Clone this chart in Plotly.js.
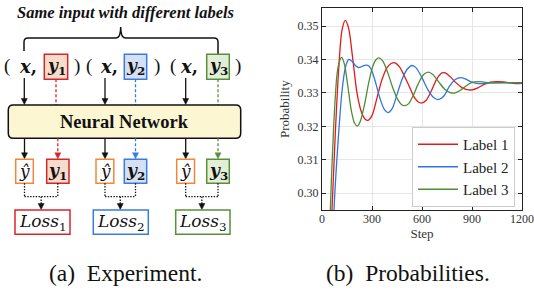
<!DOCTYPE html>
<html><head><meta charset="utf-8">
<script src="https://cdn.plot.ly/plotly-3.0.1.min.js"></script>
<style>html,body{margin:0;padding:0;background:#fff}#chart{width:534px;height:291px}</style>
</head><body><div id="chart"></div>
<script>
// ---- data ----
const seriesNames = ['Label 1', 'Label 2', 'Label 3'];
const stepsLabel1 = [0,30,60,80,100,120,140,160,185,210,235,258,276,300,330,360,390,415,438,465,495,525,555,580,600,625,655,690,720,740,770,805,840,870,900,935,970,1010,1050,1090,1130,1160,1200];
const probLabel1  = [0.23,0.262,0.295,0.318,0.337,0.3488,0.3517,0.3493,0.340,0.330,0.3245,0.3222,0.3218,0.3232,0.3285,0.3340,0.3376,0.3388,0.3390,0.3378,0.3350,0.3318,0.3286,0.3272,0.3270,0.3278,0.3305,0.3343,0.3360,0.3360,0.3348,0.3330,0.3316,0.3310,0.3309,0.3315,0.3325,0.3332,0.3334,0.3333,0.3330,0.3328,0.3329];
const stepsLabel2 = [0,40,72,100,120,140,160,180,200,218,240,262,280,300,325,350,375,396,420,450,480,510,540,565,600,635,668,698,730,765,800,830,860,895,935,970,1010,1080,1140,1200];
const probLabel2  = [0.18,0.24,0.295,0.318,0.3305,0.3375,0.3400,0.3395,0.3382,0.3376,0.3379,0.3383,0.3381,0.3365,0.3325,0.3280,0.3250,0.3241,0.3252,0.3295,0.3340,0.3370,0.3382,0.3375,0.3345,0.3310,0.3287,0.3280,0.3290,0.3320,0.3340,0.3346,0.3342,0.3333,0.3328,0.3328,0.3330,0.3331,0.3330,0.3330];
const stepsLabel3 = [0,25,50,70,90,105,118,135,155,175,195,212,230,255,280,305,325,342,365,395,425,455,480,498,520,550,580,610,638,665,700,735,770,798,830,870,905,938,975,1020,1080,1140,1200];
const probLabel3  = [0.2,0.245,0.295,0.320,0.3355,0.3395,0.3406,0.3385,0.332,0.325,0.3210,0.3201,0.3215,0.3265,0.3330,0.3380,0.3400,0.3405,0.3395,0.3360,0.3315,0.3280,0.3264,0.3262,0.3268,0.3295,0.3330,0.3355,0.3362,0.3355,0.3333,0.3312,0.3301,0.3300,0.3308,0.3323,0.3332,0.3334,0.3332,0.3330,0.3330,0.3331,0.3331];
const xTicks = [0, 300, 600, 900, 1200];
const yTicks = [0.30, 0.31, 0.32, 0.33, 0.34, 0.35];

// ---- styling ----
const SERIF = 'Liberation Serif, Times New Roman, serif';
const MATH = 'DejaVu Serif, serif';
const RED = '#d7262b', BLUE = '#3a7be0', GREEN = '#5a8f3a', ORANGE = '#f0883a';
const lineColors = ['#e3191c', '#2f74e0', '#4e8c35'];

const traces = [[stepsLabel1, probLabel1], [stepsLabel2, probLabel2], [stepsLabel3, probLabel3]].map((d, i) => ({
  type: 'scatter', mode: 'lines', x: d[0], y: d[1], name: seriesNames[i],
  line: {color: lineColors[i], width: 1.3, shape: 'spline', smoothing: 0.8},
  cliponaxis: true
}));

// ---- diagram helpers (pixel -> paper) ----
const W = 534, H = 291;
const px = v => v / W, py = v => 1 - v / H;
const shapes = [], ann = [];
function rect(x0, y0, x1, y1, color, fill, w) {
  shapes.push({type: 'rect', xref: 'paper', yref: 'paper', x0: px(x0), x1: px(x1), y0: py(y1), y1: py(y0),
    line: {color: color, width: w || 1.5}, fillcolor: fill || 'rgba(0,0,0,0)'});
}
function seg(x0, y0, x1, y1, color, dash, w) {
  shapes.push({type: 'line', xref: 'paper', yref: 'paper', x0: px(x0), y0: py(y0), x1: px(x1), y1: py(y1),
    line: {color: color, width: w || 1.3, dash: dash || 'solid'}});
}
function head(x, y, color) {
  shapes.push({type: 'path', xref: 'paper', yref: 'paper',
    path: `M${px(x - 3)},${py(y - 6)} L${px(x + 3)},${py(y - 6)} L${px(x)},${py(y)} Z`,
    fillcolor: color, line: {color: color, width: 0.5}});
}
function arrow(x, y0, y1, color, dash, w) { seg(x, y0, x, y1 - 5, color, dash, w); head(x, y1, color); }
function txt(x, y, text, size, family, extra) {
  ann.push(Object.assign({xref: 'paper', yref: 'paper', x: px(x), y: py(y), xanchor: 'center', yanchor: 'middle',
    text: text, showarrow: false, font: {family: family || SERIF, size: size, color: '#111'}}, extra || {}));
}
const P = (x, y) => `${px(x)},${py(y)}`;

// title + brace
txt(125, 12.5, '<b><i>Same input with different labels</i></b>', 16.5);
shapes.push({type: 'path', xref: 'paper', yref: 'paper', line: {color: '#111', width: 1.5},
  path: `M${P(24, 51)} L${P(24, 42)} Q${P(24, 38)} ${P(28, 38)} L${P(116, 38)} Q${P(120.7, 38)} ${P(120.7, 27)} Q${P(120.7, 38)} ${P(125.4, 38)} L${P(214, 38)} Q${P(218, 38)} ${P(218, 42)} L${P(218, 54)}`});

// input row
const rowY = 66.5;
txt(7, rowY, '(', 19); txt(28, rowY, '<b><i>x</i>,</b>', 18, MATH); txt(77, rowY, ')', 19);
txt(89, rowY, '(', 19); txt(108.5, rowY, '<b><i>x</i>,</b>', 18, MATH); txt(157, rowY, ')', 19);
txt(173, rowY, '(', 19); txt(189, rowY, '<b><i>x</i>,</b>', 18, MATH); txt(238, rowY, ')', 19);
rect(44.3, 54.3, 67.7, 79.3, RED, '#f8dccb');
rect(124.3, 54.3, 146.7, 79.3, BLUE, '#d6e0f3');
rect(206.7, 54.3, 229.3, 79.3, GREEN, '#e2eed7');
txt(56, 66.5, '<b><i>y</i><sub>1</sub></b>', 17, MATH);
txt(135.5, 66.5, '<b><i>y</i><sub>2</sub></b>', 17, MATH);
txt(218, 66.5, '<b><i>y</i><sub>3</sub></b>', 17, MATH);

// arrows into network
[24.3, 105, 185.7].forEach(x => arrow(x, 78, 104.5, '#111'));
seg(56, 79.3, 56, 105, RED, '3px,2px'); seg(135.5, 79.3, 135.5, 105, BLUE, '3px,2px'); seg(218, 79.3, 218, 105, GREEN, '3px,2px');

// network box (rounded)
(function () {
  const x0 = 8.3, x1 = 240.7, y0 = 105, y1 = 138.3, r = 5;
  shapes.push({type: 'path', xref: 'paper', yref: 'paper', fillcolor: '#fdf6d3', line: {color: '#111', width: 1.5},
    path: `M${P(x0 + r, y0)} L${P(x1 - r, y0)} Q${P(x1, y0)} ${P(x1, y0 + r)} L${P(x1, y1 - r)} Q${P(x1, y1)} ${P(x1 - r, y1)} L${P(x0 + r, y1)} Q${P(x0, y1)} ${P(x0, y1 - r)} L${P(x0, y0 + r)} Q${P(x0, y0)} ${P(x0 + r, y0)} Z`});
})();
txt(124.5, 122, '<b>Neural Network</b>', 18.5);

// outputs
const groups = [
  {h: 24.5, hx0: 15.7, hx1: 33.3, y: 57.8, yx0: 46.7, yx1: 69, c: RED, f: '#f8dccb', n: 1, l0: 15, l1: 70},
  {h: 105, hx0: 96, hx1: 113.8, y: 135.5, yx0: 124.3, yx1: 146.7, c: BLUE, f: '#d6e0f3', n: 2, l0: 93.3, l1: 148.3},
  {h: 185.7, hx0: 176.7, hx1: 194.5, y: 218, yx0: 206.7, yx1: 229.3, c: GREEN, f: '#e2eed7', n: 3, l0: 175.7, l1: 230}
];
groups.forEach(g => {
  arrow(g.h, 138.3, 158.8, '#111');
  arrow(g.y, 138.3, 158.8, g.c, '3px,2px');
  rect(g.hx0, 159.3, g.hx1, 183.3, ORANGE, '#ffffff');
  rect(g.yx0, 159.3, g.yx1, 183.3, g.c, g.f);
  txt(g.h, 170.5, '<i>ŷ</i>', 17, MATH);
  txt(g.y, 171, `<b><i>y</i><sub>${g.n}</sub></b>`, 17, MATH);
  const dot = '1.4px,1.4px';
  seg(g.h, 183.3, g.h, 196.7, '#111', dot, 1.3);
  seg(g.h, 196.7, g.y, 196.7, '#111', dot, 1.3);
  seg(g.y, 183.3, g.y, 196.7, '#111', dot, 1.3);
  const m = (g.h + g.y) / 2;
  seg(m, 196.7, m, 204, '#111', dot, 1.3); head(m, 209.5, '#111');
  rect(g.l0, 210, g.l1, 234.3, g.c, '#ffffff');
  txt((g.l0 + g.l1) / 2, 222, `<i>Loss</i><sub>${g.n}</sub>`, 17, MATH);
});

// captions
txt(125, 273, '(a)\u00a0 Experiment.', 23.5);
txt(408, 273, '(b)\u00a0 Probabilities.', 23.5);

const axisCommon = {
  showline: true, linecolor: '#222', linewidth: 1.2, mirror: 'allticks',
  ticks: 'inside', ticklen: 4, tickwidth: 1, tickcolor: '#222',
  showgrid: true, gridcolor: '#e6e6e6', gridwidth: 1, zeroline: false,
  tickfont: {family: SERIF, size: 12, color: '#333'}
};
const layout = {
  width: 534, height: 291, margin: {l: 0, r: 0, t: 0, b: 0},
  paper_bgcolor: '#fff', plot_bgcolor: '#fff',
  showlegend: true,
  xaxis: Object.assign({}, axisCommon, {domain: [px(322), px(522)], range: [0, 1200], tickvals: xTicks,
    ticktext: xTicks.map(String), ticklabelstandoff: -3,
    title: {text: 'Step', font: {family: SERIF, size: 13, color: '#333'}, standoff: 0}}),
  yaxis: Object.assign({}, axisCommon, {domain: [py(210), py(8.3)], range: [0.295, 0.3553], tickvals: yTicks,
    tickformat: '.2f', title: {text: 'Probability', font: {family: SERIF, size: 13, color: '#333'}, standoff: 4}}),
  legend: {x: px(515), xanchor: 'right', y: py(207), yanchor: 'bottom', bgcolor: '#fff', bordercolor: '#cccccc',
    borderwidth: 1, font: {family: SERIF, size: 15, color: '#222'}, itemwidth: 40},
  shapes: shapes, annotations: ann
};
Plotly.newPlot('chart', traces, layout, {displayModeBar: false, staticPlot: true});
</script>
</body></html>
